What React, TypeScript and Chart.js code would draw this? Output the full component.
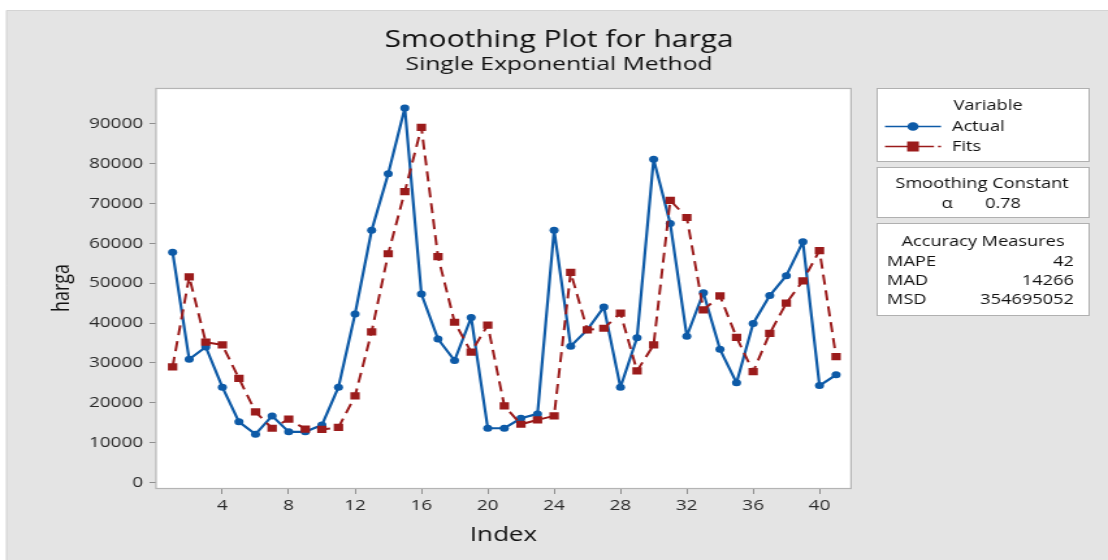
import React, { useEffect, useRef } from 'react';
import { Chart, registerables } from 'chart.js';

Chart.register(...registerables);

// ---------- data ----------
const indexValues = [
  1, 2, 3, 4, 5, 6, 7, 8, 9, 10, 11, 12, 13, 14, 15, 16, 17, 18, 19, 20, 21,
  22, 23, 24, 25, 26, 27, 28, 29, 30, 31, 32, 33, 34, 35, 36, 37, 38, 39, 40, 41,
];
const actualValues = [
  57800, 30900, 34000, 23900, 15200, 12100, 16700, 12700, 12700, 14400, 23900,
  42300, 63300, 77500, 94000, 47300, 36000, 30600, 41400, 13600, 13600, 16100,
  17200, 63300, 34200, 38300, 44000, 23900, 36300, 81100, 65000, 36700, 47600,
  33400, 25000, 39900, 46900, 51900, 60400, 24300, 27000,
];
const fitsValues = [
  29000, 51600, 35200, 34500, 26100, 17700, 13600, 15900, 13400, 13300, 13800,
  21700, 37800, 57400, 73000, 89100, 56700, 40200, 32700, 39500, 19200, 14600,
  15700, 16700, 52700, 38300, 38700, 42500, 28000, 34500, 70800, 66500, 43300,
  46800, 36400, 27800, 37400, 45000, 50600, 58200, 31600,
];
const xTickValues = [4, 8, 12, 16, 20, 24, 28, 32, 36, 40];
const yTickValues = [0, 10000, 20000, 30000, 40000, 50000, 60000, 70000, 80000, 90000];

const titleText = 'Smoothing Plot for harga';
const subtitleText = 'Single Exponential Method';
const xTitle = 'Index';
const yTitle = 'harga';
const legendTitle = 'Variable';
const seriesNames = ['Actual', 'Fits'];
const smoothingTitle = 'Smoothing Constant';
const alphaSymbol = 'α';
const alphaValue = '0.78';
const accuracyTitle = 'Accuracy Measures';
const accuracyLabels = ['MAPE', 'MAD', 'MSD'];
const accuracyValues = ['42', '14266', '354695052'];

// ---------- layout ----------
const OUT_W = 1108;
const H = 560;
const W = 852; // internal canvas width, stretched horizontally to OUT_W
const S = OUT_W / W;
const sx = (px: number) => px / S;

const FONT = '"Open Sans", "DejaVu Sans", sans-serif';
const BLUE = '#0d5aa7';
const RED = '#9b1b1b';
const TEXT = '#111111';

const decorPlugin = {
  id: 'decor',
  beforeDraw(chart: any) {
    const { ctx, chartArea: a } = chart;
    ctx.save();
    ctx.fillStyle = '#ffffff';
    ctx.fillRect(0, 0, W, H);
    ctx.fillStyle = '#e4e4e4';
    ctx.fillRect(sx(6), 10, W, H);
    ctx.strokeStyle = '#d4d4d4';
    ctx.lineWidth = 1;
    ctx.beginPath();
    ctx.moveTo(sx(6) + 0.5, H);
    ctx.lineTo(sx(6) + 0.5, 10.5);
    ctx.lineTo(W, 10.5);
    ctx.stroke();

    // plot area
    ctx.fillStyle = '#ffffff';
    ctx.fillRect(a.left, a.top, a.right - a.left, a.bottom - a.top);

    // titles
    ctx.fillStyle = TEXT;
    ctx.textAlign = 'center';
    ctx.textBaseline = 'middle';
    ctx.font = `23px ${FONT}`;
    ctx.fillText(titleText, sx(559), 40);
    ctx.font = `19px ${FONT}`;
    ctx.fillText(subtitleText, sx(559), 65);

    // side boxes
    const box = (x1: number, y1: number, x2: number, y2: number) => {
      const l = sx(x1), r = sx(x2);
      ctx.fillStyle = '#ffffff';
      ctx.fillRect(l, y1, r - l, y2 - y1);
      ctx.strokeStyle = '#b0b0b0';
      ctx.lineWidth = 1;
      ctx.strokeRect(Math.round(l) + 0.5, y1 + 0.5, Math.round(r - l), y2 - y1);
    };
    box(877, 88, 1089, 161);
    box(877, 167, 1089, 217);
    box(877, 223, 1089, 315);

    ctx.font = `14px ${FONT}`;
    ctx.fillStyle = TEXT;
    ctx.textAlign = 'center';
    ctx.fillText(legendTitle, sx(988), 106);

    // Actual legend entry
    ctx.strokeStyle = BLUE;
    ctx.lineWidth = 1.4;
    ctx.beginPath();
    ctx.moveTo(sx(885), 126.5);
    ctx.lineTo(sx(941), 126.5);
    ctx.stroke();
    ctx.fillStyle = BLUE;
    ctx.beginPath();
    ctx.arc(sx(913), 126.5, 4.3, 0, Math.PI * 2);
    ctx.fill();

    // Fits legend entry
    ctx.strokeStyle = RED;
    ctx.lineWidth = 1.4;
    ctx.beginPath();
    ctx.moveTo(sx(885), 146.5);
    ctx.lineTo(sx(934), 146.5);
    ctx.moveTo(sx(938), 146.5);
    ctx.lineTo(sx(941), 146.5);
    ctx.stroke();
    ctx.fillStyle = RED;
    ctx.fillRect(sx(913) - 4.5, 146.5 - 5, 9, 10);

    ctx.fillStyle = TEXT;
    ctx.textAlign = 'left';
    ctx.fillText(seriesNames[0], sx(952), 127);
    ctx.fillText(seriesNames[1], sx(952), 147);

    ctx.textAlign = 'center';
    ctx.fillText(smoothingTitle, sx(982), 184);
    ctx.fillText(alphaSymbol, sx(947), 204);
    ctx.textAlign = 'left';
    ctx.fillText(alphaValue, sx(985), 204);

    ctx.textAlign = 'center';
    ctx.fillText(accuracyTitle, sx(983), 242);
    const rows = [262, 281, 300];
    accuracyLabels.forEach((lab, i) => {
      ctx.textAlign = 'left';
      ctx.fillText(lab, sx(887), rows[i]);
      ctx.textAlign = 'right';
      ctx.fillText(accuracyValues[i], sx(1074), rows[i]);
    });
    ctx.restore();
  },
  beforeDatasetsDraw(chart: any) {
    const { ctx, chartArea: a } = chart;
    ctx.save();
    ctx.strokeStyle = '#b4b4b4';
    ctx.lineWidth = 1.2;
    ctx.strokeRect(a.left, a.top + 0.5, a.right - a.left, a.bottom - a.top);
    ctx.restore();
  },
};

export default function App() {
  const canvasRef = useRef<HTMLCanvasElement | null>(null);

  useEffect(() => {
    if (!canvasRef.current) return;
    const actualData = indexValues.map((x, i) => ({ x, y: actualValues[i] }));
    const fitsData = indexValues.map((x, i) => ({ x, y: fitsValues[i] }));

    const chart = new Chart(canvasRef.current, {
      type: 'line',
      data: {
        datasets: [
          {
            label: seriesNames[1],
            data: fitsData,
            borderColor: RED,
            backgroundColor: RED,
            borderWidth: 2,
            borderDash: [10, 6],
            borderJoinStyle: 'round',
            pointStyle: 'rect',
            pointRadius: 5.1,
            pointBorderWidth: 0,
            pointBackgroundColor: RED,
            tension: 0,
            fill: false,
          },
          {
            label: seriesNames[0],
            data: actualData,
            borderColor: BLUE,
            backgroundColor: BLUE,
            borderWidth: 2.2,
            borderJoinStyle: 'round',
            pointStyle: 'circle',
            pointRadius: 3.5,
            pointBorderWidth: 0,
            pointBackgroundColor: BLUE,
            tension: 0,
            fill: false,
          },
        ],
      },
      options: {
        animation: false,
        responsive: false,
        events: [],
        layout: { padding: { top: 88, left: 0, right: W - sx(851), bottom: 0 } },
        plugins: {
          legend: { display: false },
          title: { display: false },
          tooltip: { enabled: false },
        },
        scales: {
          x: {
            type: 'linear',
            min: 0,
            max: 41.9,
            afterFit: (s: any) => {
              s.height = H - 488;
            },
            afterBuildTicks: (s: any) => {
              s.ticks = xTickValues.map((v) => ({ value: v }));
            },
            ticks: {
              autoSkip: false,
              maxRotation: 0,
              padding: 3,
              color: '#2a2a2a',
              font: { family: FONT, size: 14.5 },
              callback: (v: any) => String(v),
            },
            grid: { drawOnChartArea: false, drawTicks: true, tickLength: 6, color: '#8f8f8f' },
            border: { display: false },
            title: {
              display: true,
              text: xTitle,
              color: TEXT,
              font: { family: FONT, size: 20 },
              padding: { top: 0, bottom: 13 },
            },
          },
          y: {
            type: 'linear',
            min: -1400,
            max: 99000,
            afterFit: (s: any) => {
              s.width = sx(156);
            },
            afterBuildTicks: (s: any) => {
              s.ticks = yTickValues.map((v) => ({ value: v }));
            },
            ticks: {
              autoSkip: false,
              padding: 5,
              color: '#2a2a2a',
              font: { family: FONT, size: 14.5 },
              callback: (v: any) => String(v),
            },
            grid: { drawOnChartArea: false, drawTicks: true, tickLength: 5, color: '#8f8f8f' },
            border: { display: false },
            title: {
              display: true,
              text: yTitle,
              color: TEXT,
              font: { family: FONT, size: 18 },
              padding: { top: 37, bottom: 0 },
            },
          },
        },
      },
      plugins: [decorPlugin],
    });
    return () => chart.destroy();
  }, []);

  return (
    <div
      style={{
        position: 'absolute',
        left: 0,
        top: 0,
        width: OUT_W,
        height: H,
        overflow: 'hidden',
        background: '#ffffff',
      }}
    >
      <div
        style={{
          width: W,
          height: H,
          transform: `scaleX(${S})`,
          transformOrigin: '0 0',
        }}
      >
        <canvas ref={canvasRef} width={W} height={H} />
      </div>
    </div>
  );
}
